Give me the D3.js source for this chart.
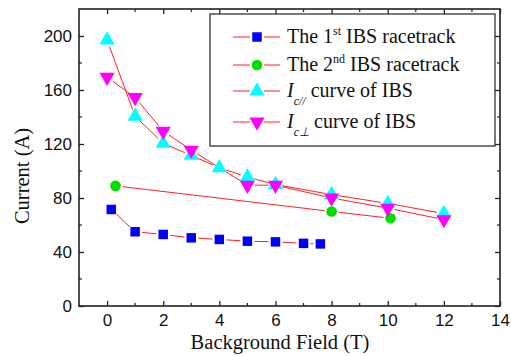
<!DOCTYPE html>
<html><head><meta charset="utf-8">
<script src="https://cdn.jsdelivr.net/npm/d3@7"></script>
<style>body{margin:0;background:#fff}svg{display:block}</style>
</head><body>
<script>
// Data
const s1x = [0.15, 1, 2, 3, 4, 5, 6, 7, 7.6];
const s1y = [71.5, 55, 53, 50.5, 49.3, 48, 47.5, 46.4, 46];
const s2x = [0.3, 8, 10.1];
const s2y = [89, 70, 65];
const s3x = [0, 1, 2, 3, 4, 5, 6, 8, 10, 12];
const s3y = [197, 140.5, 120.5, 111.5, 102.4, 95.5, 90, 82.5, 76, 68.5];
const s4x = [0, 1, 2, 3, 5, 6, 8, 10, 12];
const s4y = [169.5, 154.5, 129.5, 115.5, 89.5, 89.5, 80, 72.5, 64];
const xTicks = [0, 2, 4, 6, 8, 10, 12, 14];
const yTicks = [0, 40, 80, 120, 160, 200];

const W = 511, H = 356;
const m = {l: 79, r: 11, t: 9, b: 50};
const svg = d3.select("body").append("svg").attr("width", W).attr("height", H);
const x = d3.scaleLinear().domain([-1, 14]).range([m.l, W - m.r]);
const y = d3.scaleLinear().domain([0, 220]).range([H - m.b, m.t]);

const series = [
  {xs: s1x, ys: s1y, shape: d3.symbolSquare, size: 90, color: "#0000ff", rot: 0},
  {xs: s2x, ys: s2y, shape: d3.symbolCircle, size: 90, color: "#00e000", rot: 0},
  {xs: s3x, ys: s3y, shape: d3.symbolTriangle, size: 100, color: "#00ffff", rot: 0},
  {xs: s4x, ys: s4y, shape: d3.symbolTriangle, size: 100, color: "#ff00ff", rot: 180}
];

const plot = svg.append("g");
series.forEach(s => {
  const pts = s.xs.map((v, i) => [x(v), y(s.ys[i])]);
  for (let i = 0; i < pts.length - 1; i++) {
    const [x1, y1] = pts[i], [x2, y2] = pts[i + 1];
    const dx = x2 - x1, dy = y2 - y1, L = Math.hypot(dx, dy), g = 7;
    if (L <= 2 * g) continue;
    plot.append("line")
      .attr("x1", x1 + dx / L * g).attr("y1", y1 + dy / L * g)
      .attr("x2", x2 - dx / L * g).attr("y2", y2 - dy / L * g)
      .attr("stroke", "#ff2020").attr("stroke-width", 1);
  }
});
series.forEach(s => {
  plot.selectAll(null).data(s.xs.map((v, i) => [x(v), y(s.ys[i])])).enter()
    .append("path")
    .attr("d", d3.symbol().type(s.shape).size(s.size))
    .attr("transform", d => `translate(${d[0]},${d[1]}) rotate(${s.rot})`)
    .attr("fill", s.color);
});

// Axes frame
const frameColor = "#222";
const axB = d3.axisBottom(x).tickValues(xTicks).tickSize(-5).tickPadding(8).tickFormat(d3.format("d"));
const axL = d3.axisLeft(y).tickValues(yTicks).tickSize(-5).tickPadding(7);
const minorX = d3.range(-1, 14.01, 1);
const minorY = d3.range(20, 220, 40);

function styleAxis(g) {
  g.select(".domain").remove();
  g.selectAll("line").attr("stroke", frameColor).attr("stroke-width", 1.3);
  g.selectAll("text").attr("font-family", "Liberation Sans, Arial, sans-serif").attr("font-size", 17).attr("fill", "#111");
}
svg.append("g").attr("transform", `translate(0,${H - m.b})`).call(axB).call(styleAxis);
svg.append("g").attr("transform", `translate(${m.l},0)`).call(axL).call(styleAxis);
svg.append("g").attr("transform", `translate(0,${m.t})`).call(d3.axisTop(x).tickValues(xTicks).tickSize(-5).tickFormat("")).call(styleAxis);
svg.append("g").attr("transform", `translate(${W - m.r},0)`).call(d3.axisRight(y).tickValues(yTicks).tickSize(-5).tickFormat("")).call(styleAxis);
// minor ticks
const mt = svg.append("g").attr("stroke", frameColor).attr("stroke-width", 1.2);
minorX.filter(v => v % 2 !== 0 && v > -1 && v < 14).forEach(v => {
  mt.append("line").attr("x1", x(v)).attr("x2", x(v)).attr("y1", H - m.b).attr("y2", H - m.b - 3);
  mt.append("line").attr("x1", x(v)).attr("x2", x(v)).attr("y1", m.t).attr("y2", m.t + 3);
});
minorY.forEach(v => {
  mt.append("line").attr("x1", m.l).attr("x2", m.l + 3).attr("y1", y(v)).attr("y2", y(v));
  mt.append("line").attr("x1", W - m.r).attr("x2", W - m.r - 3).attr("y1", y(v)).attr("y2", y(v));
});
svg.append("rect").attr("x", m.l).attr("y", m.t).attr("width", W - m.r - m.l).attr("height", H - m.b - m.t)
  .attr("fill", "none").attr("stroke", frameColor).attr("stroke-width", 1.6);

// Axis titles
const serif = "Liberation Serif, Times New Roman, serif";
svg.append("text").attr("x", 280).attr("y", 349).attr("text-anchor", "middle")
  .attr("font-family", serif).attr("font-size", 20.5).attr("fill", "#111").text("Background Field (T)");
svg.append("text").attr("transform", "translate(29,176) rotate(-90)").attr("text-anchor", "middle")
  .attr("font-family", serif).attr("font-size", 20.5).attr("fill", "#111").text("Current (A)");

// Legend
const leg = svg.append("g");
leg.append("rect").attr("x", 210).attr("y", 14).attr("width", 285).attr("height", 132)
  .attr("fill", "#fff").attr("stroke", "#222").attr("stroke-width", 1.2);
const rowsY = [37, 65, 91, 122];
const labels = [
  [["The 1", {}], ["st", {sup: true}], [" IBS racetrack", {after: "sup"}]],
  [["The 2", {}], ["nd", {sup: true}], [" IBS racetrack", {after: "sup"}]],
  [["I", {it: true}], ["c//", {sub: true, it: true}], [" curve of IBS", {after: "sub"}]],
  [["I", {it: true}], ["c\u22A5", {sub: true, it: true}], [" curve of IBS", {after: "sub"}]]
];
series.forEach((s, i) => {
  const ry = rowsY[i];
  leg.append("line").attr("x1", 233).attr("x2", 250).attr("y1", ry).attr("y2", ry).attr("stroke", "#ff2020").attr("stroke-width", 1);
  leg.append("line").attr("x1", 264).attr("x2", 280).attr("y1", ry).attr("y2", ry).attr("stroke", "#ff2020").attr("stroke-width", 1);
  leg.append("path").attr("d", d3.symbol().type(s.shape).size(s.size))
    .attr("transform", `translate(257,${ry}) rotate(${s.rot})`).attr("fill", s.color);
  const t = leg.append("text").attr("x", 287).attr("y", ry + 6).attr("font-family", serif).attr("font-size", 20).attr("fill", "#111");
  labels[i].forEach(([txt, o]) => {
    const ts = t.append("tspan").text(txt);
    if (o.it) ts.attr("font-style", "italic");
    if (o.sup) ts.attr("font-size", 12).attr("dy", -8);
    if (o.sub) ts.attr("font-size", 12).attr("dy", 8);
    if (o.after === "sup") ts.attr("dy", 8);
    if (o.after === "sub") ts.attr("dy", -8);
  });
});
</script>
</body></html>
